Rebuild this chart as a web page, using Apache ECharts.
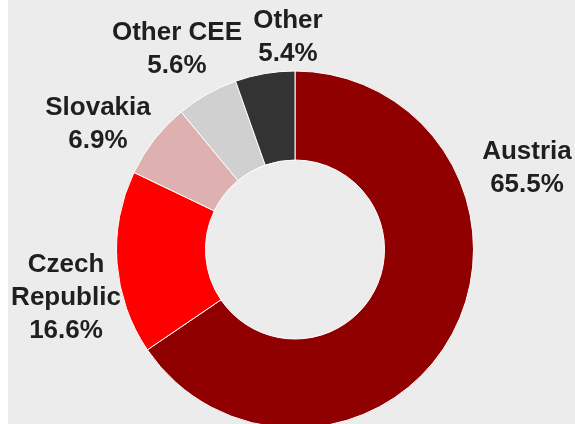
<!DOCTYPE html>
<html>
<head>
<meta charset="utf-8">
<script src="https://cdn.jsdelivr.net/npm/echarts@6/dist/echarts.min.js"></script>
<style>
  html, body { margin: 0; padding: 0; background: #ffffff; }
  #chart { position: absolute; left: 8px; top: 0; width: 567px; height: 424px; }
</style>
</head>
<body>
<div id="chart"></div>
<script>
// share of total, clockwise from 12 o'clock
const categories = ["Austria", "Czech Republic", "Slovakia", "Other CEE", "Other"];
const labelNames = ["Austria", "Czech\nRepublic", "Slovakia", "Other CEE", "Other"];
const shares = [65.5, 16.6, 6.9, 5.6, 5.4];
const colors = ["#900000", "#ff0000", "#dfb0b0", "#d0d0d0", "#333333"];

// label anchor points (chart px), placed by hand like the original
const labelPos = [[519, 168], [58, 298], [90, 124], [169, 49], [280, 37]];

const chart = echarts.init(document.getElementById("chart"), null, { renderer: "canvas" });

chart.setOption({
  backgroundColor: "#ececec",
  animation: false,
  series: [
    {
      type: "pie",
      center: [287, 249.5],
      radius: [89.5, 178.5],
      startAngle: 90,
      clockwise: true,
      avoidLabelOverlap: false,
      itemStyle: { borderColor: "#ffffff", borderWidth: 1 },
      label: {
        show: true,
        position: "outside",
        fontFamily: "Liberation Sans, Arial, sans-serif",
        fontWeight: "bold",
        fontSize: 26,
        lineHeight: 33,
        color: "#1f1f1f",
        formatter: (p) => labelNames[p.dataIndex] + "\n" + p.value.toFixed(1) + "%",
      },
      labelLine: { show: false },
      labelLayout: (p) => ({
        x: labelPos[p.dataIndex][0],
        y: labelPos[p.dataIndex][1],
        align: "center",
        verticalAlign: "middle",
      }),
      emphasis: { disabled: true },
      data: categories.map((name, i) => ({
        name,
        value: shares[i],
        itemStyle: { color: colors[i] },
      })),
    },
  ],
});
</script>
</body>
</html>
